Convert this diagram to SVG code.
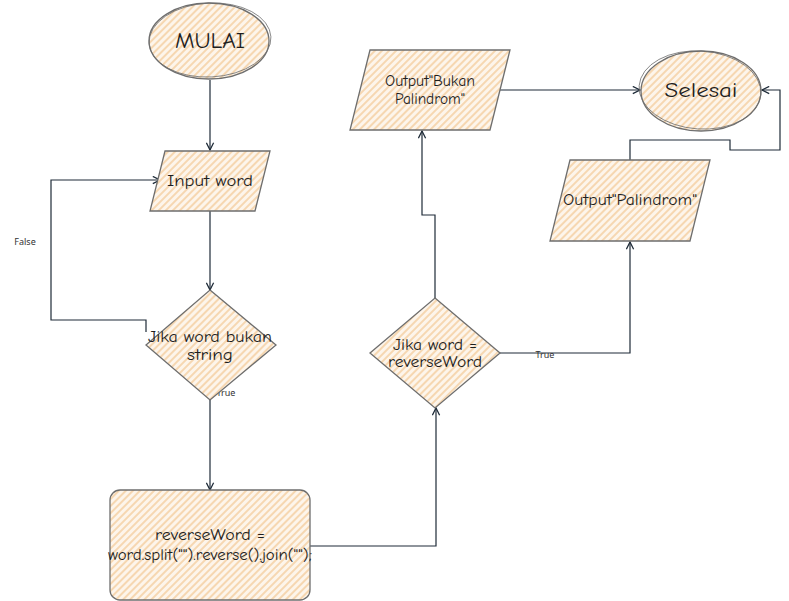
<svg xmlns="http://www.w3.org/2000/svg" width="789" height="601" viewBox="0 0 789 601">
<defs>
<pattern id="hatch" width="5" height="5" patternUnits="userSpaceOnUse" patternTransform="rotate(45)">
<rect width="5" height="5" fill="#fdf5eb"/>
<line x1="1" y1="0" x2="1" y2="5" stroke="#f3c792" stroke-width="1.3"/>
</pattern>
<marker id="arr" viewBox="0 0 10 10" refX="9" refY="5" markerWidth="9" markerHeight="9" orient="auto" markerUnits="userSpaceOnUse">
<path d="M1,1 L9,5 L1,9" fill="none" stroke="#1e2b38" stroke-width="1.4"/>
</marker>
</defs>
<style>
.shape{fill:url(#hatch);stroke:#6e6e6e;stroke-width:1.3}
.sk{fill:none;stroke:#6e6e6e;stroke-width:0.8}
.con{fill:none;stroke:#1e2b38;stroke-width:1.2}
.t{font-family:"Comic Neue","Noto Sans","Liberation Sans",sans-serif;fill:#1e1e1e;text-anchor:middle}
.m{font-size:15px}
.lbl{font-size:9px;font-family:"Noto Sans","Liberation Sans",sans-serif;fill:#333;text-anchor:middle}
</style>
<rect width="789" height="601" fill="#ffffff"/>
<g id="connectors">
<path class="con" d="M210,80 L210,150" marker-end="url(#arr)"/>
<path class="con" d="M210,211 L210,290" marker-end="url(#arr)"/>
<path class="con" d="M146,332 L146,320 L51,320 L51,180 L160,180" marker-end="url(#arr)"/>
<path class="con" d="M210,400 L210,490" marker-end="url(#arr)"/>
<path class="con" d="M310,546 L436,546 L436,408" marker-end="url(#arr)"/>
<path class="con" d="M435,298 L435,215 L422,215 L422,131" marker-end="url(#arr)"/>
<path class="con" d="M500,90 L640,90" marker-end="url(#arr)"/>
<path class="con" d="M500,353 L630,353 L630,242" marker-end="url(#arr)"/>
<path class="con" d="M630,160 L630,140 L730,140 L730,150 L780,150 L780,90 L762,90" marker-end="url(#arr)"/>
<text class="lbl" x="25" y="245">False</text>
<text class="lbl" x="226" y="396">True</text>
<text class="lbl" x="545" y="358">True</text>
</g>
<g id="mulai">
<ellipse class="shape" cx="209" cy="41" rx="60" ry="38"/>
<ellipse class="sk" cx="210" cy="40" rx="61" ry="37" transform="rotate(-3 210 40)"/>
<text class="t" x="210" y="48" font-size="22" textLength="70" lengthAdjust="spacingAndGlyphs">MULAI</text>
</g>
<g id="input">
<polygon class="shape" points="165,151 270,151 255,211 150,211"/>
<text class="t m" x="210" y="186" textLength="86" lengthAdjust="spacingAndGlyphs">Input word</text>
</g>
<g id="decision1">
<polygon class="shape" points="210,290 276,345 210,400 146,345"/>
<text class="t m" x="210" y="342" textLength="124" lengthAdjust="spacingAndGlyphs">Jika word bukan</text>
<text class="t m" x="210" y="360" textLength="46" lengthAdjust="spacingAndGlyphs">string</text>
</g>
<g id="process">
<rect class="shape" x="110" y="490" width="200" height="110" rx="10"/>
<text class="t m" x="210" y="540" textLength="110" lengthAdjust="spacingAndGlyphs">reverseWord =</text>
<text class="t m" x="210" y="560" textLength="204" lengthAdjust="spacingAndGlyphs">word.split("").reverse().join("");</text>
</g>
<g id="decision2">
<polygon class="shape" points="435,298 500,353 435,408 370,353"/>
<text class="t m" x="435" y="350" textLength="84" lengthAdjust="spacingAndGlyphs">Jika word =</text>
<text class="t m" x="435" y="367" textLength="94" lengthAdjust="spacingAndGlyphs">reverseWord</text>
</g>
<g id="output-bukan">
<polygon class="shape" points="370,50 510,50 490,130 350,130"/>
<text class="t m" x="430" y="86" textLength="90" lengthAdjust="spacingAndGlyphs">Output"Bukan</text>
<text class="t m" x="430" y="104" textLength="70" lengthAdjust="spacingAndGlyphs">Palindrom"</text>
</g>
<g id="selesai">
<ellipse class="shape" cx="701" cy="91" rx="60" ry="40"/>
<ellipse class="sk" cx="700" cy="90" rx="61" ry="39" transform="rotate(4 700 90)"/>
<text class="t" x="701" y="97" font-size="21" textLength="73" lengthAdjust="spacingAndGlyphs">Selesai</text>
</g>
<g id="output-palindrom">
<polygon class="shape" points="570,160 710,160 690,241 550,241"/>
<text class="t m" x="630" y="205" textLength="134" lengthAdjust="spacingAndGlyphs">Output"Palindrom"</text>
</g>
</svg>
